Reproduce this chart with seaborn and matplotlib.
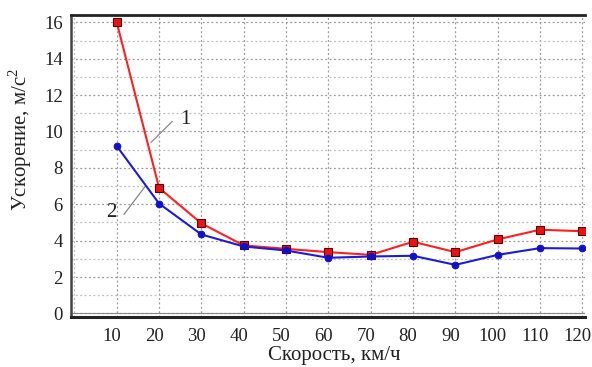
import matplotlib
matplotlib.use("Agg")
import matplotlib.pyplot as plt
import matplotlib.transforms as mtransforms
import seaborn as sns
import pandas as pd
import numpy as np

speed = [10, 20, 30, 40, 50, 60, 70, 80, 90, 100, 110, 120]
accel_1 = [16.0, 6.9, 4.95, 3.74, 3.55, 3.37, 3.22, 3.94, 3.37, 4.07, 4.6, 4.52]
accel_2 = [9.2, 6.04, 4.34, 3.68, 3.46, 3.06, 3.13, 3.17, 2.67, 3.22, 3.59, 3.57]
y_ticks = [0, 2, 4, 6, 8, 10, 12, 14, 16]
x_ticks = speed
x_label = "Скорость, км/ч"
y_label = "Ускорение, м/с$^2$"

sns.set_style("white")
plt.rcParams['font.family'] = ['Liberation Serif', 'DejaVu Serif']
plt.rcParams['mathtext.fontset'] = 'custom'
plt.rcParams['mathtext.rm'] = 'Liberation Serif'

df = pd.DataFrame({
    "speed": speed * 2,
    "accel": accel_1 + accel_2,
    "series": ["1"] * len(speed) + ["2"] * len(speed),
})

fig = plt.figure(figsize=(5.92, 3.67), dpi=100)
ax = fig.add_axes([0.12, 0.136, 0.868, 0.823])

ax.axhline(0, color="#888888", lw=0.8, zorder=1)

sns.lineplot(data=df[df.series == "1"], x="speed", y="accel", ax=ax,
             color="#ff1f1f", lw=1.5, marker="s", markersize=6.2,
             markerfacecolor="#ee1111", markeredgecolor="#5a0000",
             markeredgewidth=0.8, legend=False, zorder=3)
sns.lineplot(data=df[df.series == "2"], x="speed", y="accel", ax=ax,
             color="#1c1cd6", lw=1.5, marker="o", markersize=4.8,
             markerfacecolor="#1010cc", markeredgecolor="#1010cc",
             legend=False, zorder=3)

ax.set_xlim(-0.8, 120.6)
ax.set_ylim(-0.2, 16.4)
ax.set_xticks(x_ticks)
ax.set_xticks([0], minor=True)
ax.set_yticks(y_ticks)
ax.set_yticks([1, 3, 5, 7, 9, 11, 13, 15], minor=True)
ax.set_xticklabels([str(v) for v in x_ticks])
ax.set_yticklabels([str(v) for v in y_ticks])
ax.tick_params(which="both", length=0, labelsize=13.5, colors="#222222")
ax.tick_params(axis="y", pad=6)
ax.tick_params(axis="x", pad=8)
shift = mtransforms.ScaledTranslation(-5 / 100, 0, fig.dpi_scale_trans)
for lbl in ax.get_xticklabels():
    lbl.set_transform(lbl.get_transform() + shift)

ax.grid(True, which="major", color="#9a9a9a", linestyle=(0, (1.5, 2)), linewidth=0.9)
ax.grid(True, which="minor", color="#bdbdbd", linestyle=(0, (1.5, 2)), linewidth=0.9)

ax.set_xlabel(x_label, fontsize=15, color="#222222")
ax.set_ylabel(y_label, fontsize=15, color="#222222")
ax.xaxis.set_label_coords(0.512, -0.097)
ax.yaxis.set_label_coords(-0.072, 0.59)

ax.spines["right"].set_visible(False)
ax.spines["top"].set_linewidth(2)
ax.spines["top"].set_color("#222222")
ax.spines["left"].set_linewidth(1.8)
ax.spines["left"].set_color("#444444")
ax.spines["bottom"].set_linewidth(2.2)
ax.spines["bottom"].set_color("#222222")

ax.plot([18.1, 23.1], [9.4, 10.55], color="#888888", lw=0.9)
ax.text(26.1, 10.66, "1", fontsize=15, ha="center", va="center", color="#222222")
ax.plot([11.7, 16.7], [5.44, 6.98], color="#888888", lw=0.9)
ax.text(8.7, 5.55, "2", fontsize=15, ha="center", va="center", color="#222222")

fig.savefig("out.png", dpi=100)
